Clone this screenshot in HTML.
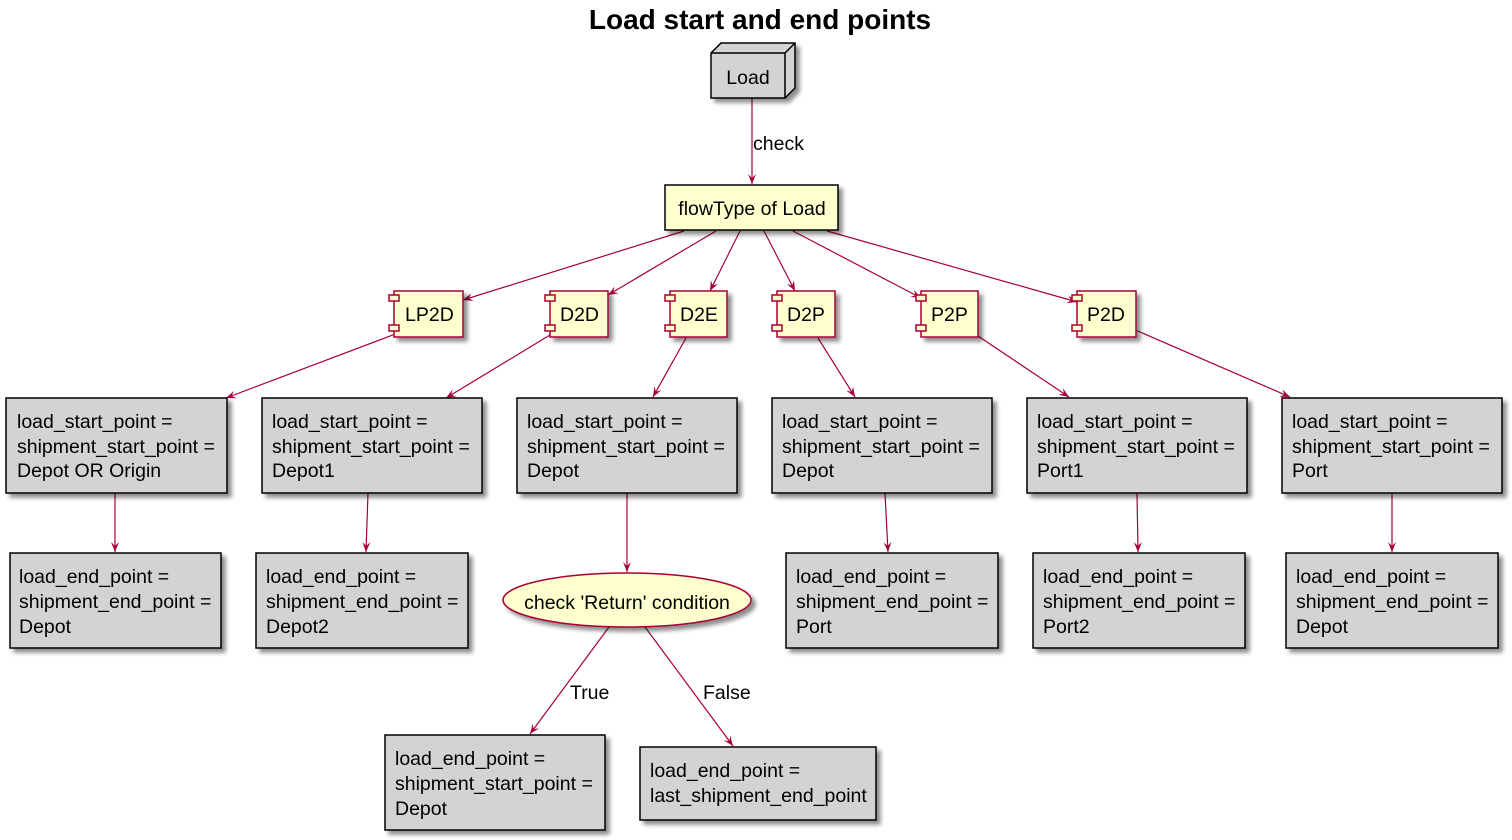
<!DOCTYPE html>
<html><head><meta charset="utf-8"><style>
html,body{margin:0;padding:0;background:#fff;}
svg{display:block;font-family:"Liberation Sans",Arial,sans-serif;}
</style></head><body>
<svg width="1512" height="840" viewBox="0 0 1512 840" xmlns="http://www.w3.org/2000/svg">
<defs>
<filter id="sh" x="-10%" y="-10%" width="130%" height="130%">
<feGaussianBlur in="SourceAlpha" stdDeviation="2"/>
<feOffset dx="4" dy="4" result="b"/>
<feComponentTransfer><feFuncA type="linear" slope="0.45"/></feComponentTransfer>
<feMerge><feMergeNode/><feMergeNode in="SourceGraphic"/></feMerge>
</filter>
<marker id="ar" markerWidth="12" markerHeight="10" refX="10" refY="4" orient="auto" markerUnits="userSpaceOnUse">
<path d="M0,0 L10,4 L0,8 L4,4 z" fill="#A80036"/>
</marker>
</defs>
<text x="760" y="29" text-anchor="middle" font-size="28" font-weight="bold">Load start and end points</text>

<g stroke="#A80036" stroke-width="1.2" fill="none" marker-end="url(#ar)">
<line x1="752" y1="98" x2="752" y2="184"/>
<line x1="684" y1="231" x2="463" y2="300"/>
<line x1="716" y1="231" x2="608" y2="295"/>
<line x1="740" y1="231" x2="710" y2="291"/>
<line x1="764" y1="231" x2="795" y2="291"/>
<line x1="793" y1="231" x2="921" y2="298"/>
<line x1="827" y1="231" x2="1077" y2="302"/>
<line x1="398" y1="333" x2="226" y2="398"/>
<line x1="550" y1="335" x2="446" y2="398"/>
<line x1="686" y1="338" x2="653" y2="397"/>
<line x1="818" y1="338" x2="855" y2="397"/>
<line x1="978" y1="336" x2="1069" y2="397"/>
<line x1="1133" y1="329" x2="1290" y2="397"/>
<line x1="115" y1="493" x2="115" y2="552"/>
<line x1="368" y1="493" x2="366" y2="552"/>
<line x1="627" y1="493" x2="627" y2="572"/>
<line x1="885" y1="493" x2="888" y2="552"/>
<line x1="1137" y1="493" x2="1138" y2="552"/>
<line x1="1392" y1="493" x2="1392" y2="552"/>
<line x1="609" y1="627" x2="530" y2="734"/>
<line x1="645" y1="627" x2="733" y2="746"/>
</g>
<g font-size="19.5">
<text x="753" y="150">check</text>
<text x="570" y="699">True</text>
<text x="703" y="699">False</text>
</g>

<g filter="url(#sh)" stroke="#000" stroke-width="1.5" fill="#D3D3D3">
<path d="M711,53 L721,43 L795,43 L795,88 L785,98 L711,98 Z"/>
</g>
<g stroke="#000" stroke-width="1.5" fill="none">
<path d="M711,53 L785,53 L795,43 M785,53 L785,98"/>
</g>
<text x="748" y="84" text-anchor="middle" font-size="19.5">Load</text>

<rect x="665" y="185" width="173" height="45" fill="#FEFECE" stroke="#000" stroke-width="1.5" filter="url(#sh)"/>
<text x="752" y="215" text-anchor="middle" font-size="19.5">flowType of Load</text>

<g font-size="19.5">
<g>
<rect x="394" y="291" width="69" height="46" fill="#FEFECE" stroke="#A80036" stroke-width="1.5" filter="url(#sh)"/>
<rect x="389" y="295" width="10" height="6" fill="#FEFECE" stroke="#A80036" stroke-width="1.5"/>
<rect x="389" y="325" width="10" height="6" fill="#FEFECE" stroke="#A80036" stroke-width="1.5"/>
<text x="405" y="321">LP2D</text>
</g>
<g>
<rect x="550" y="291" width="58" height="46" fill="#FEFECE" stroke="#A80036" stroke-width="1.5" filter="url(#sh)"/>
<rect x="545" y="295" width="10" height="6" fill="#FEFECE" stroke="#A80036" stroke-width="1.5"/>
<rect x="545" y="325" width="10" height="6" fill="#FEFECE" stroke="#A80036" stroke-width="1.5"/>
<text x="560" y="321">D2D</text>
</g>
<g>
<rect x="670" y="291" width="57" height="46" fill="#FEFECE" stroke="#A80036" stroke-width="1.5" filter="url(#sh)"/>
<rect x="665" y="295" width="10" height="6" fill="#FEFECE" stroke="#A80036" stroke-width="1.5"/>
<rect x="665" y="325" width="10" height="6" fill="#FEFECE" stroke="#A80036" stroke-width="1.5"/>
<text x="680" y="321">D2E</text>
</g>
<g>
<rect x="777" y="291" width="58" height="46" fill="#FEFECE" stroke="#A80036" stroke-width="1.5" filter="url(#sh)"/>
<rect x="772" y="295" width="10" height="6" fill="#FEFECE" stroke="#A80036" stroke-width="1.5"/>
<rect x="772" y="325" width="10" height="6" fill="#FEFECE" stroke="#A80036" stroke-width="1.5"/>
<text x="787" y="321">D2P</text>
</g>
<g>
<rect x="921" y="291" width="57" height="46" fill="#FEFECE" stroke="#A80036" stroke-width="1.5" filter="url(#sh)"/>
<rect x="916" y="295" width="10" height="6" fill="#FEFECE" stroke="#A80036" stroke-width="1.5"/>
<rect x="916" y="325" width="10" height="6" fill="#FEFECE" stroke="#A80036" stroke-width="1.5"/>
<text x="931" y="321">P2P</text>
</g>
<g>
<rect x="1077" y="291" width="59" height="46" fill="#FEFECE" stroke="#A80036" stroke-width="1.5" filter="url(#sh)"/>
<rect x="1072" y="295" width="10" height="6" fill="#FEFECE" stroke="#A80036" stroke-width="1.5"/>
<rect x="1072" y="325" width="10" height="6" fill="#FEFECE" stroke="#A80036" stroke-width="1.5"/>
<text x="1087" y="321">P2D</text>
</g>
</g>

<g fill="#D3D3D3" stroke="#000" stroke-width="1.5" filter="url(#sh)">
<rect x="6" y="398" width="221" height="95"/>
<rect x="262" y="398" width="220" height="95"/>
<rect x="517" y="398" width="220" height="95"/>
<rect x="772" y="398" width="220" height="95"/>
<rect x="1027" y="398" width="220" height="95"/>
<rect x="1282" y="398" width="220" height="95"/>
<rect x="10" y="553" width="211" height="95"/>
<rect x="256" y="553" width="212" height="95"/>
<rect x="786" y="553" width="212" height="95"/>
<rect x="1033" y="553" width="212" height="95"/>
<rect x="1286" y="553" width="212" height="95"/>
<rect x="385" y="735" width="220" height="95"/>
<rect x="640" y="747" width="236" height="73"/>
</g>
<ellipse cx="627" cy="600" rx="124" ry="27" fill="#FEFECE" stroke="#A80036" stroke-width="1.5" filter="url(#sh)"/>
<text x="627" y="609" text-anchor="middle" font-size="19.5">check 'Return' condition</text>

<g font-size="19.5">
<text x="17" y="428">load_start_point =</text><text x="17" y="453">shipment_start_point =</text><text x="17" y="477">Depot OR Origin</text>
<text x="272" y="428">load_start_point =</text><text x="272" y="453">shipment_start_point =</text><text x="272" y="477">Depot1</text>
<text x="527" y="428">load_start_point =</text><text x="527" y="453">shipment_start_point =</text><text x="527" y="477">Depot</text>
<text x="782" y="428">load_start_point =</text><text x="782" y="453">shipment_start_point =</text><text x="782" y="477">Depot</text>
<text x="1037" y="428">load_start_point =</text><text x="1037" y="453">shipment_start_point =</text><text x="1037" y="477">Port1</text>
<text x="1292" y="428">load_start_point =</text><text x="1292" y="453">shipment_start_point =</text><text x="1292" y="477">Port</text>

<text x="19" y="583">load_end_point =</text><text x="19" y="608">shipment_end_point =</text><text x="19" y="633">Depot</text>
<text x="266" y="583">load_end_point =</text><text x="266" y="608">shipment_end_point =</text><text x="266" y="633">Depot2</text>
<text x="796" y="583">load_end_point =</text><text x="796" y="608">shipment_end_point =</text><text x="796" y="633">Port</text>
<text x="1043" y="583">load_end_point =</text><text x="1043" y="608">shipment_end_point =</text><text x="1043" y="633">Port2</text>
<text x="1296" y="583">load_end_point =</text><text x="1296" y="608">shipment_end_point =</text><text x="1296" y="633">Depot</text>

<text x="395" y="765">load_end_point =</text><text x="395" y="790">shipment_start_point =</text><text x="395" y="815">Depot</text>
<text x="650" y="777">load_end_point =</text><text x="650" y="802">last_shipment_end_point</text>
</g>
</svg>
</body></html>
